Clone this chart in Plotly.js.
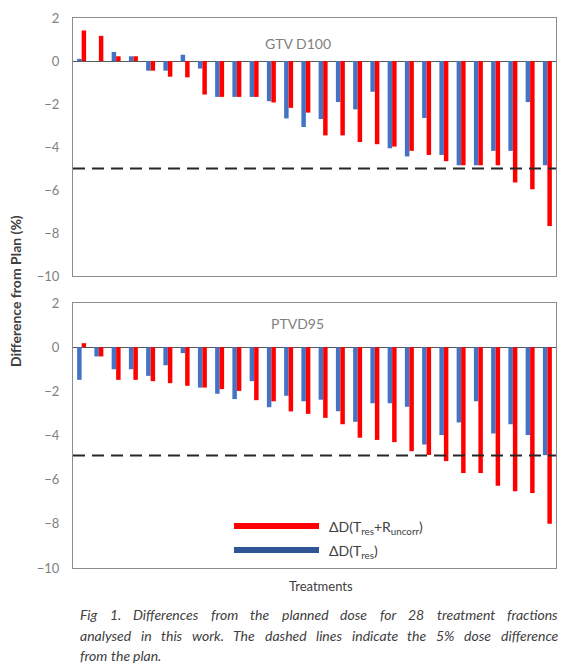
<!DOCTYPE html>
<html>
<head>
<meta charset="utf-8">
<script src="https://cdn.plot.ly/plotly-3.0.1.min.js"></script>
<style>html,body{margin:0;padding:0;background:#fff;}#chart{width:572px;height:671px;}</style>
</head>
<body>
<div id="chart"></div>
<script>
// ---- data ----
const treatments = Array.from({length: 28}, (_, i) => i + 1);
const gtvTres = [0.1, 0, 0.42, 0.22, -0.45, -0.45, 0.29, -0.35, -1.67, -1.67,
  -1.67, -1.87, -2.67, -3.07, -2.7, -1.91, -2.25, -1.43, -4.06, -4.44,
  -2.65, -4.37, -4.85, -4.85, -4.18, -4.18, -1.91, -4.85];
const gtvTresR = [1.42, 1.17, 0.22, 0.22, -0.45, -0.73, -0.76, -1.56, -1.67, -1.67,
  -1.67, -1.93, -2.18, -2.4, -3.46, -3.46, -3.77, -3.87, -3.98, -4.18,
  -4.37, -4.66, -4.85, -4.85, -4.85, -5.65, -5.96, -7.67];
const ptvTres = [-1.48, -0.42, -1.0, -1.0, -1.3, -0.82, -0.27, -1.83, -2.11, -2.35,
  -1.54, -2.72, -2.2, -2.45, -2.38, -2.9, -3.38, -2.54, -2.54, -2.7,
  -4.41, -3.98, -3.41, -2.45, -3.91, -3.49, -3.98, -4.89];
const ptvTresR = [0.18, -0.42, -1.48, -1.48, -1.54, -1.63, -1.75, -1.83, -1.9, -1.98,
  -2.4, -2.45, -2.91, -3.02, -3.2, -3.49, -4.1, -4.2, -4.3, -4.71,
  -4.88, -5.16, -5.7, -5.7, -6.28, -6.52, -6.6, -8.0];
const limitTop = -5;
const limitBottom = -4.9;
const yTicks = [2, 0, -2, -4, -6, -8, -10];
const panelNames = ['GTV D100', 'PTVD95'];
const legendNames = ['ΔD(T<sub>res</sub>+R<sub>uncorr</sub>)', 'ΔD(T<sub>res</sub>)'];
const yTitle = 'Difference from Plan (%)';
const xTitle = 'Treatments';
const captionLines = [
  'Fig 1. Differences from the planned dose for 28 treatment fractions',
  'analysed in this work. The dashed lines indicate the 5% dose difference',
  'from the plan.'
];

// ---- layout helpers ----
const W = 572, H = 671;
const px = v => v / W;
const py = v => 1 - v / H;
const BLUE = '#4472C4', RED = '#FF0000';
const FONT = 'Lato, "Open Sans", sans-serif';

const traces = [
  {x: treatments, y: gtvTres, type: 'bar', marker: {color: BLUE}, xaxis: 'x', yaxis: 'y', name: 'Tres', hoverinfo: 'y'},
  {x: treatments, y: gtvTresR, type: 'bar', marker: {color: RED}, xaxis: 'x', yaxis: 'y', name: 'TresR', hoverinfo: 'y'},
  {x: treatments, y: ptvTres, type: 'bar', marker: {color: BLUE}, xaxis: 'x2', yaxis: 'y2', name: 'Tres', hoverinfo: 'y'},
  {x: treatments, y: ptvTresR, type: 'bar', marker: {color: RED}, xaxis: 'x2', yaxis: 'y2', name: 'TresR', hoverinfo: 'y'}
];

const xDom = [px(73), px(556)];
const yAxisCommon = {
  range: [-10, 2], tickvals: yTicks, showgrid: false,
  zeroline: true, zerolinecolor: '#595959', zerolinewidth: 1,
  showline: true, mirror: true, linecolor: '#8c8c8c', linewidth: 1,
  ticks: 'outside', ticklen: 10, tickcolor: 'rgba(0,0,0,0)',
  tickfont: {family: FONT, size: 13, color: '#7f7f7f'}, fixedrange: true
};
const xAxisCommon = {
  domain: xDom, range: [0.5, 28.5], showticklabels: false, ticks: '',
  showgrid: false, zeroline: false,
  showline: true, mirror: true, linecolor: '#8c8c8c', linewidth: 1, fixedrange: true
};

const shapes = [
  {type: 'line', xref: 'paper', yref: 'y', x0: xDom[0], x1: xDom[1], y0: limitTop, y1: limitTop,
   line: {color: '#262626', width: 2, dash: '12px,7px'}},
  {type: 'line', xref: 'paper', yref: 'y2', x0: xDom[0], x1: xDom[1], y0: limitBottom, y1: limitBottom,
   line: {color: '#262626', width: 2, dash: '12px,7px'}},
  {type: 'line', xref: 'paper', yref: 'paper', x0: px(234), x1: px(319), y0: py(526), y1: py(526),
   line: {color: RED, width: 6}},
  {type: 'line', xref: 'paper', yref: 'paper', x0: px(234), x1: px(319), y0: py(550), y1: py(550),
   line: {color: '#2F5597', width: 6}}
];

function note(text, x, y, opts) {
  return Object.assign({text: text, x: px(x), y: py(y), xref: 'paper', yref: 'paper',
    xanchor: 'center', yanchor: 'middle', showarrow: false}, opts);
}

const annotations = [
  note(panelNames[0], 298, 44, {font: {family: FONT, size: 14, color: '#7f7f7f'}}),
  note(panelNames[1], 297, 323, {font: {family: FONT, size: 14, color: '#7f7f7f'}}),
  note(legendNames[0], 327, 527, {xanchor: 'left', font: {family: FONT, size: 14, color: '#404040'}}),
  note(legendNames[1], 327, 551, {xanchor: 'left', font: {family: FONT, size: 14, color: '#404040'}}),
  note(xTitle, 321, 586, {font: {family: FONT, size: 13, color: '#404040'}}),
  note('<b>' + yTitle + '</b>', 15, 291, {textangle: -90, font: {family: FONT, size: 14, color: '#404040'}})
];

// justified caption: place words using measured widths
const capFontSize = 14;
const cv = document.createElement('canvas').getContext('2d');
cv.font = 'italic ' + capFontSize + 'px Lato';
const capLeft = 78, capRight = 556;
const capY = [614, 635, 655];
captionLines.forEach((line, li) => {
  const words = line.split(' ');
  const justify = li < captionLines.length - 1;
  const widths = words.map(w => cv.measureText(w).width);
  const total = widths.reduce((a, b) => a + b, 0);
  const gap = justify ? (capRight - capLeft - total) / (words.length - 1) : cv.measureText(' ').width;
  let xpos = capLeft;
  words.forEach((w, wi) => {
    annotations.push(note('<i>' + w + '</i>', xpos, capY[li], {xanchor: 'left',
      font: {family: FONT, size: capFontSize, color: '#404040'}}));
    xpos += widths[wi] + gap;
  });
});

const layout = {
  width: W, height: H, margin: {l: 0, r: 0, t: 0, b: 0},
  paper_bgcolor: '#fff', plot_bgcolor: '#fff', showlegend: false,
  barmode: 'group', bargap: 0.48, bargroupgap: 0,
  xaxis: Object.assign({}, xAxisCommon, {anchor: 'y'}),
  yaxis: Object.assign({}, yAxisCommon, {domain: [py(276), py(18)], anchor: 'x'}),
  xaxis2: Object.assign({}, xAxisCommon, {anchor: 'y2'}),
  yaxis2: Object.assign({}, yAxisCommon, {domain: [py(568), py(303)], anchor: 'x2'}),
  shapes: shapes, annotations: annotations
};

Plotly.newPlot('chart', traces, layout, {displayModeBar: false, staticPlot: true});
</script>
</body>
</html>
